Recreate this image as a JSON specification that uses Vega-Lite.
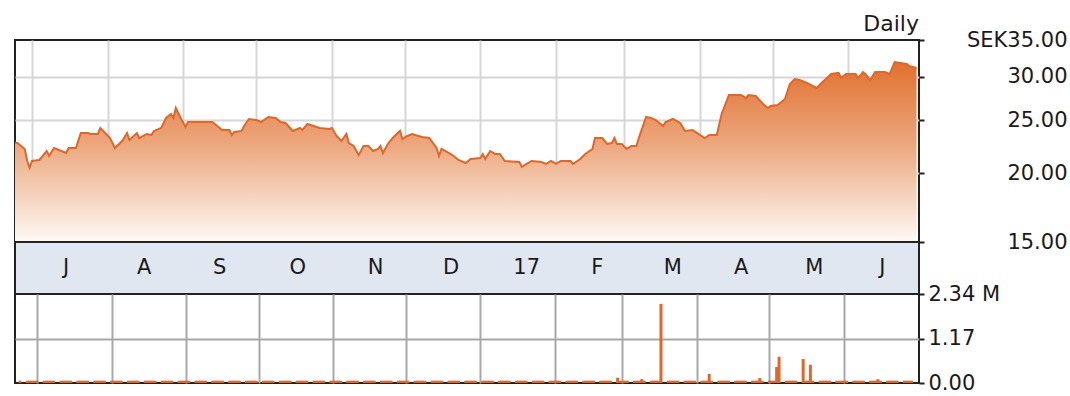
{
  "$schema": "https://vega.github.io/schema/vega-lite/v6.json",
  "padding": {"left": 10, "top": 12, "right": 0, "bottom": 0},
  "background": "white",
  "bounds": "flush",
  "spacing": 0,
  "config": {
    "font": "DejaVu Sans",
    "axis": {"labelFont": "DejaVu Sans", "labelFontSize": 21, "labelColor": "#1a1a1a"},
    "view": {"stroke": "#222222", "strokeWidth": 2}
  },
  "datasets": {
    "price": [
      {"d":"2016-06-24","p":22.75},{"d":"2016-06-25","p":22.72},{"d":"2016-06-28","p":22.16},{"d":"2016-06-29","p":21.07},{"d":"2016-06-30","p":20.49},
      {"d":"2016-07-01","p":21.07},{"d":"2016-07-04","p":21.16},{"d":"2016-07-07","p":21.97},{"d":"2016-07-08","p":21.52},{"d":"2016-07-10","p":22.25},
      {"d":"2016-07-13","p":21.97},{"d":"2016-07-15","p":21.79},{"d":"2016-07-16","p":22.25},{"d":"2016-07-19","p":22.25},{"d":"2016-07-21","p":23.69},
      {"d":"2016-07-24","p":23.69},{"d":"2016-07-25","p":23.60},{"d":"2016-07-28","p":23.60},{"d":"2016-07-29","p":24.20},{"d":"2016-07-31","p":23.69},
      {"d":"2016-08-02","p":23.20},{"d":"2016-08-04","p":22.25},{"d":"2016-08-07","p":22.91},{"d":"2016-08-09","p":23.69},{"d":"2016-08-10","p":23.01},
      {"d":"2016-08-13","p":23.69},{"d":"2016-08-14","p":23.20},{"d":"2016-08-17","p":23.60},{"d":"2016-08-19","p":23.50},{"d":"2016-08-20","p":23.90},
      {"d":"2016-08-23","p":24.20},{"d":"2016-08-25","p":25.24},{"d":"2016-08-27","p":25.66},{"d":"2016-08-28","p":25.24},{"d":"2016-08-29","p":26.32},
      {"d":"2016-08-31","p":25.24},{"d":"2016-09-02","p":24.30},{"d":"2016-09-03","p":24.81},{"d":"2016-09-13","p":24.81},{"d":"2016-09-15","p":24.40},
      {"d":"2016-09-17","p":24.00},{"d":"2016-09-20","p":24.00},{"d":"2016-09-21","p":23.50},{"d":"2016-09-22","p":23.79},{"d":"2016-09-25","p":23.90},
      {"d":"2016-09-26","p":24.40},{"d":"2016-09-28","p":25.13},{"d":"2016-10-01","p":25.02},{"d":"2016-10-03","p":24.81},{"d":"2016-10-06","p":25.34},
      {"d":"2016-10-09","p":25.24},{"d":"2016-10-11","p":24.81},{"d":"2016-10-13","p":24.71},{"d":"2016-10-16","p":23.90},{"d":"2016-10-19","p":24.20},
      {"d":"2016-10-20","p":24.00},{"d":"2016-10-22","p":24.61},{"d":"2016-10-27","p":24.20},{"d":"2016-10-31","p":24.10},{"d":"2016-11-01","p":24.20},
      {"d":"2016-11-03","p":23.40},{"d":"2016-11-05","p":22.91},{"d":"2016-11-07","p":23.60},{"d":"2016-11-08","p":22.72},{"d":"2016-11-10","p":22.44},
      {"d":"2016-11-12","p":21.61},{"d":"2016-11-13","p":21.97},{"d":"2016-11-14","p":22.44},{"d":"2016-11-16","p":22.44},{"d":"2016-11-18","p":21.97},
      {"d":"2016-11-20","p":22.16},{"d":"2016-11-21","p":22.44},{"d":"2016-11-22","p":21.79},{"d":"2016-11-24","p":22.63},{"d":"2016-11-26","p":23.20},
      {"d":"2016-11-29","p":23.90},{"d":"2016-11-30","p":23.10},{"d":"2016-12-02","p":23.40},{"d":"2016-12-04","p":23.60},{"d":"2016-12-08","p":23.30},
      {"d":"2016-12-11","p":23.20},{"d":"2016-12-14","p":22.25},{"d":"2016-12-15","p":21.52},{"d":"2016-12-16","p":22.16},{"d":"2016-12-19","p":21.79},
      {"d":"2016-12-21","p":21.52},{"d":"2016-12-23","p":21.16},{"d":"2016-12-26","p":20.89},{"d":"2016-12-28","p":21.25},{"d":"2017-01-01","p":21.34},
      {"d":"2017-01-02","p":21.70},{"d":"2017-01-03","p":21.25},{"d":"2017-01-05","p":21.97},{"d":"2017-01-07","p":21.70},{"d":"2017-01-09","p":21.70},
      {"d":"2017-01-11","p":21.07},{"d":"2017-01-17","p":20.98},{"d":"2017-01-18","p":20.55},{"d":"2017-01-20","p":20.81},{"d":"2017-01-22","p":21.07},
      {"d":"2017-01-26","p":20.98},{"d":"2017-01-28","p":20.81},{"d":"2017-01-30","p":21.07},{"d":"2017-02-01","p":20.81},{"d":"2017-02-03","p":21.07},
      {"d":"2017-02-07","p":21.07},{"d":"2017-02-08","p":20.81},{"d":"2017-02-11","p":21.25},{"d":"2017-02-13","p":21.70},{"d":"2017-02-16","p":22.16},
      {"d":"2017-02-17","p":23.20},{"d":"2017-02-20","p":23.20},{"d":"2017-02-22","p":22.63},{"d":"2017-02-24","p":22.72},{"d":"2017-02-25","p":23.20},
      {"d":"2017-02-26","p":22.63},{"d":"2017-02-28","p":22.63},{"d":"2017-03-02","p":22.16},{"d":"2017-03-04","p":22.44},{"d":"2017-03-06","p":22.44},
      {"d":"2017-03-07","p":23.20},{"d":"2017-03-10","p":25.34},{"d":"2017-03-12","p":25.24},{"d":"2017-03-14","p":25.02},{"d":"2017-03-17","p":24.40},
      {"d":"2017-03-18","p":24.81},{"d":"2017-03-21","p":25.13},{"d":"2017-03-24","p":24.71},{"d":"2017-03-26","p":23.90},{"d":"2017-03-29","p":24.00},
      {"d":"2017-03-31","p":23.69},{"d":"2017-04-03","p":23.20},{"d":"2017-04-05","p":23.50},{"d":"2017-04-08","p":23.50},{"d":"2017-04-10","p":25.66},
      {"d":"2017-04-13","p":27.79},{"d":"2017-04-18","p":27.79},{"d":"2017-04-20","p":27.44},{"d":"2017-04-21","p":27.79},{"d":"2017-04-24","p":27.67},
      {"d":"2017-04-27","p":26.76},{"d":"2017-04-29","p":26.32},{"d":"2017-04-30","p":26.54},{"d":"2017-05-03","p":26.65},{"d":"2017-05-06","p":27.33},
      {"d":"2017-05-08","p":29.10},{"d":"2017-05-10","p":29.72},{"d":"2017-05-12","p":29.59},{"d":"2017-05-15","p":29.22},{"d":"2017-05-19","p":28.62},
      {"d":"2017-05-21","p":29.22},{"d":"2017-05-25","p":30.35},{"d":"2017-05-28","p":30.48},{"d":"2017-05-29","p":29.84},{"d":"2017-05-31","p":30.35},
      {"d":"2017-06-04","p":30.35},{"d":"2017-06-05","p":29.84},{"d":"2017-06-07","p":30.60},{"d":"2017-06-08","p":30.35},{"d":"2017-06-10","p":29.59},
      {"d":"2017-06-12","p":30.60},{"d":"2017-06-16","p":30.60},{"d":"2017-06-18","p":30.35},{"d":"2017-06-20","p":31.91},{"d":"2017-06-25","p":31.65},
      {"d":"2017-06-26","p":31.38},{"d":"2017-06-29","p":31.12}
    ],
    "vol": [
      {"d":"2016-06-24","v":60000},{"d":"2016-06-27","v":60000},{"d":"2016-06-28","v":60000},{"d":"2016-06-29","v":60000},{"d":"2016-06-30","v":60000},
      {"d":"2016-07-01","v":60000},{"d":"2016-07-04","v":60000},{"d":"2016-07-05","v":60000},{"d":"2016-07-06","v":60000},{"d":"2016-07-07","v":60000},{"d":"2016-07-08","v":60000},
      {"d":"2016-07-11","v":60000},{"d":"2016-07-12","v":60000},{"d":"2016-07-13","v":60000},{"d":"2016-07-14","v":60000},{"d":"2016-07-15","v":60000},
      {"d":"2016-07-18","v":60000},{"d":"2016-07-19","v":60000},{"d":"2016-07-20","v":60000},{"d":"2016-07-21","v":60000},{"d":"2016-07-22","v":60000},
      {"d":"2016-07-25","v":60000},{"d":"2016-07-26","v":60000},{"d":"2016-07-27","v":60000},{"d":"2016-07-28","v":60000},{"d":"2016-07-29","v":60000},
      {"d":"2016-08-01","v":60000},{"d":"2016-08-02","v":60000},{"d":"2016-08-03","v":60000},{"d":"2016-08-04","v":60000},{"d":"2016-08-05","v":60000},
      {"d":"2016-08-08","v":60000},{"d":"2016-08-09","v":60000},{"d":"2016-08-10","v":60000},{"d":"2016-08-11","v":60000},{"d":"2016-08-12","v":60000},
      {"d":"2016-08-15","v":60000},{"d":"2016-08-16","v":60000},{"d":"2016-08-17","v":60000},{"d":"2016-08-18","v":60000},{"d":"2016-08-19","v":60000},
      {"d":"2016-08-22","v":60000},{"d":"2016-08-23","v":60000},{"d":"2016-08-24","v":60000},{"d":"2016-08-25","v":60000},{"d":"2016-08-26","v":60000},
      {"d":"2016-08-29","v":60000},{"d":"2016-08-30","v":60000},{"d":"2016-08-31","v":60000},
      {"d":"2016-09-01","v":60000},{"d":"2016-09-02","v":60000},{"d":"2016-09-05","v":60000},{"d":"2016-09-06","v":60000},{"d":"2016-09-07","v":60000},{"d":"2016-09-08","v":60000},{"d":"2016-09-09","v":60000},
      {"d":"2016-09-12","v":60000},{"d":"2016-09-13","v":60000},{"d":"2016-09-14","v":60000},{"d":"2016-09-15","v":60000},{"d":"2016-09-16","v":60000},
      {"d":"2016-09-19","v":60000},{"d":"2016-09-20","v":60000},{"d":"2016-09-21","v":60000},{"d":"2016-09-22","v":60000},{"d":"2016-09-23","v":60000},
      {"d":"2016-09-26","v":60000},{"d":"2016-09-27","v":60000},{"d":"2016-09-28","v":60000},{"d":"2016-09-29","v":60000},{"d":"2016-09-30","v":60000},
      {"d":"2016-10-03","v":60000},{"d":"2016-10-04","v":60000},{"d":"2016-10-05","v":60000},{"d":"2016-10-06","v":60000},{"d":"2016-10-07","v":60000},
      {"d":"2016-10-10","v":60000},{"d":"2016-10-11","v":60000},{"d":"2016-10-12","v":60000},{"d":"2016-10-13","v":60000},{"d":"2016-10-14","v":60000},
      {"d":"2016-10-17","v":60000},{"d":"2016-10-18","v":60000},{"d":"2016-10-19","v":60000},{"d":"2016-10-20","v":60000},{"d":"2016-10-21","v":60000},
      {"d":"2016-10-24","v":60000},{"d":"2016-10-25","v":60000},{"d":"2016-10-26","v":60000},{"d":"2016-10-27","v":60000},{"d":"2016-10-28","v":60000},{"d":"2016-10-31","v":60000},
      {"d":"2016-11-01","v":60000},{"d":"2016-11-02","v":60000},{"d":"2016-11-03","v":60000},{"d":"2016-11-04","v":60000},
      {"d":"2016-11-07","v":60000},{"d":"2016-11-08","v":60000},{"d":"2016-11-09","v":60000},{"d":"2016-11-10","v":60000},{"d":"2016-11-11","v":60000},
      {"d":"2016-11-14","v":60000},{"d":"2016-11-15","v":60000},{"d":"2016-11-16","v":60000},{"d":"2016-11-17","v":60000},{"d":"2016-11-18","v":60000},
      {"d":"2016-11-21","v":60000},{"d":"2016-11-22","v":60000},{"d":"2016-11-23","v":60000},{"d":"2016-11-24","v":60000},{"d":"2016-11-25","v":60000},
      {"d":"2016-11-28","v":60000},{"d":"2016-11-29","v":60000},{"d":"2016-11-30","v":60000},
      {"d":"2016-12-01","v":60000},{"d":"2016-12-02","v":60000},{"d":"2016-12-05","v":60000},{"d":"2016-12-06","v":60000},{"d":"2016-12-07","v":60000},{"d":"2016-12-08","v":60000},{"d":"2016-12-09","v":60000},
      {"d":"2016-12-12","v":60000},{"d":"2016-12-13","v":60000},{"d":"2016-12-14","v":60000},{"d":"2016-12-15","v":60000},{"d":"2016-12-16","v":60000},
      {"d":"2016-12-19","v":60000},{"d":"2016-12-20","v":60000},{"d":"2016-12-21","v":60000},{"d":"2016-12-22","v":60000},{"d":"2016-12-23","v":60000},
      {"d":"2016-12-26","v":60000},{"d":"2016-12-27","v":60000},{"d":"2016-12-28","v":60000},{"d":"2016-12-29","v":60000},{"d":"2016-12-30","v":60000},
      {"d":"2017-01-02","v":60000},{"d":"2017-01-03","v":60000},{"d":"2017-01-04","v":60000},{"d":"2017-01-05","v":60000},{"d":"2017-01-06","v":60000},
      {"d":"2017-01-09","v":60000},{"d":"2017-01-10","v":60000},{"d":"2017-01-11","v":60000},{"d":"2017-01-12","v":60000},{"d":"2017-01-13","v":60000},
      {"d":"2017-01-16","v":60000},{"d":"2017-01-17","v":60000},{"d":"2017-01-18","v":60000},{"d":"2017-01-19","v":60000},{"d":"2017-01-20","v":60000},
      {"d":"2017-01-23","v":60000},{"d":"2017-01-24","v":60000},{"d":"2017-01-25","v":60000},{"d":"2017-01-26","v":60000},{"d":"2017-01-27","v":60000},
      {"d":"2017-01-30","v":60000},{"d":"2017-01-31","v":60000},
      {"d":"2017-02-01","v":60000},{"d":"2017-02-02","v":60000},{"d":"2017-02-03","v":60000},
      {"d":"2017-02-06","v":60000},{"d":"2017-02-07","v":60000},{"d":"2017-02-08","v":60000},{"d":"2017-02-09","v":60000},{"d":"2017-02-10","v":60000},
      {"d":"2017-02-13","v":60000},{"d":"2017-02-14","v":60000},{"d":"2017-02-15","v":60000},{"d":"2017-02-16","v":60000},{"d":"2017-02-17","v":60000},
      {"d":"2017-02-20","v":60000},{"d":"2017-02-21","v":60000},{"d":"2017-02-22","v":60000},{"d":"2017-02-23","v":60000},{"d":"2017-02-24","v":60000},
      {"d":"2017-02-27","v":140000},{"d":"2017-02-28","v":60000},
      {"d":"2017-03-01","v":60000},{"d":"2017-03-02","v":60000},{"d":"2017-03-03","v":60000},
      {"d":"2017-03-06","v":60000},{"d":"2017-03-07","v":60000},{"d":"2017-03-08","v":60000},{"d":"2017-03-09","v":100000},{"d":"2017-03-10","v":60000},
      {"d":"2017-03-13","v":60000},{"d":"2017-03-14","v":60000},{"d":"2017-03-15","v":60000},{"d":"2017-03-16","v":60000},{"d":"2017-03-17","v":2080000},
      {"d":"2017-03-20","v":60000},{"d":"2017-03-21","v":60000},{"d":"2017-03-22","v":60000},{"d":"2017-03-23","v":60000},{"d":"2017-03-24","v":60000},
      {"d":"2017-03-27","v":60000},{"d":"2017-03-28","v":60000},{"d":"2017-03-29","v":60000},{"d":"2017-03-30","v":60000},{"d":"2017-03-31","v":60000},
      {"d":"2017-04-03","v":60000},{"d":"2017-04-04","v":60000},{"d":"2017-04-05","v":60000},{"d":"2017-04-06","v":240000},{"d":"2017-04-07","v":60000},
      {"d":"2017-04-10","v":60000},{"d":"2017-04-11","v":60000},{"d":"2017-04-12","v":60000},{"d":"2017-04-13","v":60000},{"d":"2017-04-14","v":60000},
      {"d":"2017-04-17","v":60000},{"d":"2017-04-18","v":60000},{"d":"2017-04-19","v":60000},{"d":"2017-04-20","v":60000},{"d":"2017-04-21","v":60000},
      {"d":"2017-04-24","v":60000},{"d":"2017-04-25","v":60000},{"d":"2017-04-26","v":60000},{"d":"2017-04-27","v":130000},{"d":"2017-04-28","v":60000},
      {"d":"2017-05-01","v":60000},{"d":"2017-05-02","v":60000},{"d":"2017-05-03","v":60000},{"d":"2017-05-04","v":420000},{"d":"2017-05-05","v":690000},
      {"d":"2017-05-08","v":60000},{"d":"2017-05-09","v":60000},{"d":"2017-05-10","v":60000},{"d":"2017-05-11","v":60000},{"d":"2017-05-12","v":60000},
      {"d":"2017-05-15","v":630000},{"d":"2017-05-16","v":60000},{"d":"2017-05-17","v":60000},{"d":"2017-05-18","v":480000},{"d":"2017-05-19","v":60000},
      {"d":"2017-05-22","v":60000},{"d":"2017-05-23","v":60000},{"d":"2017-05-24","v":60000},{"d":"2017-05-25","v":60000},{"d":"2017-05-26","v":60000},
      {"d":"2017-05-29","v":60000},{"d":"2017-05-30","v":60000},{"d":"2017-05-31","v":60000},
      {"d":"2017-06-01","v":60000},{"d":"2017-06-02","v":60000},
      {"d":"2017-06-05","v":60000},{"d":"2017-06-06","v":60000},{"d":"2017-06-07","v":60000},{"d":"2017-06-08","v":60000},{"d":"2017-06-09","v":60000},
      {"d":"2017-06-12","v":60000},{"d":"2017-06-13","v":60000},{"d":"2017-06-14","v":60000},{"d":"2017-06-15","v":100000},{"d":"2017-06-16","v":60000},
      {"d":"2017-06-19","v":60000},{"d":"2017-06-20","v":60000},{"d":"2017-06-21","v":60000},{"d":"2017-06-22","v":60000},{"d":"2017-06-23","v":60000},
      {"d":"2017-06-26","v":60000},{"d":"2017-06-27","v":60000},{"d":"2017-06-28","v":60000},{"d":"2017-06-29","v":60000}
    ],
    "months": [
      {"d":"2016-07-15","t":"J"},{"d":"2016-08-16","t":"A"},{"d":"2016-09-16","t":"S"},{"d":"2016-10-18","t":"O"},
      {"d":"2016-11-19","t":"N"},{"d":"2016-12-20","t":"D"},{"d":"2017-01-20","t":"17"},{"d":"2017-02-18","t":"F"},
      {"d":"2017-03-21","t":"M"},{"d":"2017-04-18","t":"A"},{"d":"2017-05-18","t":"M"},{"d":"2017-06-15","t":"J"}
    ]
  },
  "vconcat": [
    {
      "width": 904,
      "height": 202,
      "title": {"text": "Daily", "anchor": "end", "frame": "group", "fontSize": 22, "fontWeight": "normal", "font": "DejaVu Sans", "color": "#1a1a1a", "offset": -7},
      "layer": [
        {
          "data": {"name": "price"},
          "mark": {"type": "area", "fill": {"gradient": "linear", "x1": 0, "y1": 0, "x2": 0, "y2": 1, "stops": [{"offset": 0, "color": "#e1702f"}, {"offset": 0.45, "color": "#eca67c"}, {"offset": 1, "color": "#fef9f6"}]}},
          "encoding": {
            "x": {"field": "d", "type": "temporal",
              "scale": {"domain": [{"year": 2016, "month": 6, "date": 24, "utc": true}, {"year": 2017, "month": 6, "date": 30, "utc": true}]},
              "axis": {"values": [{"year":2016,"month":7,"date":1,"utc":true},{"year":2016,"month":8,"date":1,"utc":true},{"year":2016,"month":9,"date":1,"utc":true},{"year":2016,"month":10,"date":1,"utc":true},{"year":2016,"month":11,"date":1,"utc":true},{"year":2016,"month":12,"date":1,"utc":true},{"year":2017,"month":1,"date":1,"utc":true},{"year":2017,"month":2,"date":1,"utc":true},{"year":2017,"month":3,"date":1,"utc":true},{"year":2017,"month":4,"date":1,"utc":true},{"year":2017,"month":5,"date":1,"utc":true},{"year":2017,"month":6,"date":1,"utc":true}],
                "grid": true, "gridColor": "#d6d6d6", "gridWidth": 2, "labels": false, "ticks": false, "domain": false, "title": null}},
            "y": {"field": "p", "type": "quantitative",
              "scale": {"type": "log", "domain": [15, 35], "nice": false, "zero": false},
              "axis": {"orient": "right", "values": [15, 20, 25, 30, 35],
                "labelExpr": "datum.value == 35 ? 'SEK35.00' : format(datum.value, '.2f')",
                "labelAlign": "right", "labelBaseline": "middle", "labelPadding": 143, "labelFlush": false, "labelOverlap": false,
                "tickSize": 5, "tickColor": "#222222", "tickWidth": 2, "domain": false,
                "grid": true, "gridColor": {"condition": {"test": "datum.value <= 15 || datum.value >= 35", "value": "transparent"}, "value": "#d6d6d6"}, "gridWidth": 2,
                "title": null}},
            "y2": {"datum": 15}
          }
        },
        {
          "data": {"name": "price"},
          "mark": {"type": "line", "color": "#e0662a", "strokeWidth": 2},
          "encoding": {
            "x": {"field": "d", "type": "temporal"},
            "y": {"field": "p", "type": "quantitative"}
          }
        }
      ]
    },
    {
      "width": 904,
      "height": 52,
      "view": {"fill": "#e0e7f1", "stroke": "#222222", "strokeWidth": 2},
      "data": {"name": "months"},
      "mark": {"type": "text", "fontSize": 21, "font": "DejaVu Sans", "color": "#1a1a1a"},
      "encoding": {
        "x": {"field": "d", "type": "temporal",
          "scale": {"domain": [{"year": 2016, "month": 6, "date": 24, "utc": true}, {"year": 2017, "month": 6, "date": 30, "utc": true}]},
          "axis": null},
        "text": {"field": "t"}
      }
    },
    {
      "width": 904,
      "height": 89,
      "data": {"name": "vol"},
      "mark": {"type": "bar", "color": "#e2662a", "size": 3},
      "encoding": {
        "x": {"field": "d", "type": "temporal",
          "scale": {"domain": [{"year": 2016, "month": 6, "date": 24, "utc": true}, {"year": 2017, "month": 6, "date": 30, "utc": true}]},
          "axis": {"values": [{"year":2016,"month":7,"date":1,"utc":true},{"year":2016,"month":8,"date":1,"utc":true},{"year":2016,"month":9,"date":1,"utc":true},{"year":2016,"month":10,"date":1,"utc":true},{"year":2016,"month":11,"date":1,"utc":true},{"year":2016,"month":12,"date":1,"utc":true},{"year":2017,"month":1,"date":1,"utc":true},{"year":2017,"month":2,"date":1,"utc":true},{"year":2017,"month":3,"date":1,"utc":true},{"year":2017,"month":4,"date":1,"utc":true},{"year":2017,"month":5,"date":1,"utc":true},{"year":2017,"month":6,"date":1,"utc":true}],
            "grid": true, "gridColor": "#a8a8a8", "gridWidth": 2, "labels": false, "ticks": false, "domain": false, "title": null}},
        "y": {"field": "v", "type": "quantitative",
          "scale": {"domain": [0, 2340000], "nice": false},
          "axis": {"orient": "right", "values": [0, 1170000, 2340000],
            "labelExpr": "datum.value == 0 ? '0.00' : (datum.value > 2000000 ? '2.34 M' : '1.17')",
            "labelAlign": "left", "labelBaseline": "middle", "labelPadding": 4, "labelFlush": false, "labelOverlap": false,
            "tickSize": 5, "tickColor": "#222222", "tickWidth": 2, "domain": false,
            "grid": true, "gridColor": {"condition": {"test": "datum.value <= 0 || datum.value >= 2340000", "value": "transparent"}, "value": "#a8a8a8"}, "gridWidth": 2,
            "title": null}}
      }
    }
  ]
}
